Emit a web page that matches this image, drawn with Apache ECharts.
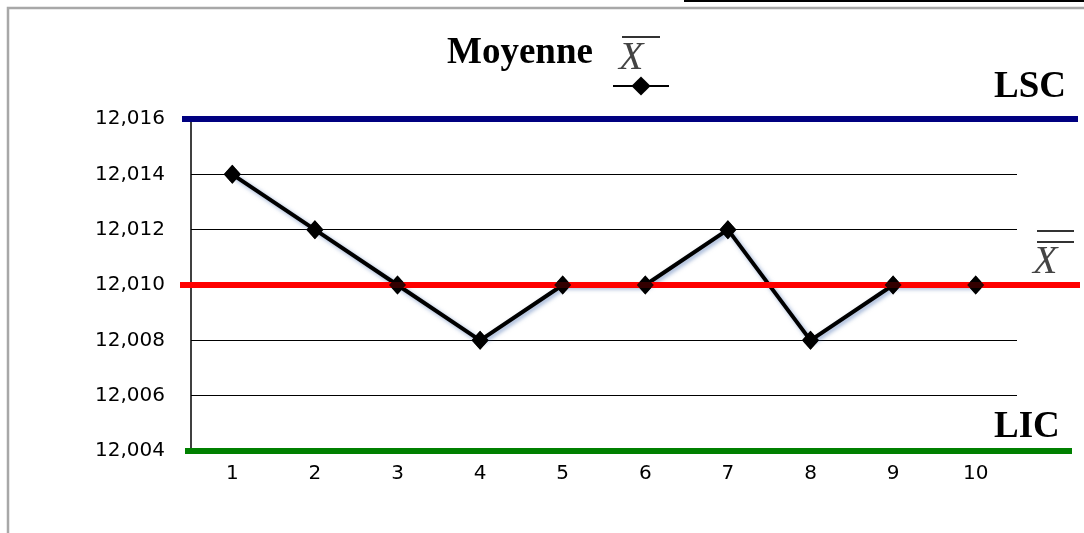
<!DOCTYPE html>
<html>
<head>
<meta charset="utf-8">
<script src="https://cdn.jsdelivr.net/npm/echarts@6/dist/echarts.min.js"></script>
<style>html,body{margin:0;padding:0;background:#fff}#c{width:1084px;height:533px}</style>
</head>
<body>
<div id="c"></div>
<script>
// ---- data ----
const categories = ['1','2','3','4','5','6','7','8','9','10'];
const moyennes = [12.014, 12.012, 12.010, 12.008, 12.010, 12.010, 12.012, 12.008, 12.010, 12.010];
const LSC = 12.016;
const LC = 12.010;
const LIC = 12.004;
const yMin = 12.004, yMax = 12.016, yStep = 0.002;
// horizontal extent of limit lines (in second grid's own units)
const lscSpan = [2, 898];
const lcSpan = [0, 900];
const licSpan = [5, 892];

const chart = echarts.init(document.getElementById('c'), null, {renderer: 'canvas'});
const fmt = v => v.toFixed(3).replace('.', ',');

const option = {
  animation: false,
  backgroundColor: '#fff',
  title: {
    text: 'Moyenne',
    left: 447, top: 35, padding: 0,
    textStyle: {fontFamily: 'Liberation Serif', fontWeight: 'bold', fontSize: 37, color: '#000'}
  },
  legend: {
    data: ['Moyenne'],
    left: 612, top: 74, padding: 0,
    itemWidth: 56, itemHeight: 24,
    formatter: () => '',
    textStyle: {fontSize: 1}
  },
  grid: [
    {left: 191, right: 67, top: 119, bottom: 82},
    {left: 180, right: 4, top: 119, bottom: 82}
  ],
  xAxis: [
    {
      type: 'category', data: categories, gridIndex: 0, boundaryGap: true,
      axisLine: {show: false}, axisTick: {show: false},
      axisLabel: {margin: 13, fontFamily: 'DejaVu Sans', fontSize: 20, color: '#000'},
      splitLine: {show: false}
    },
    {type: 'value', gridIndex: 1, min: 0, max: 900, show: false}
  ],
  yAxis: [
    {
      type: 'value', gridIndex: 0, min: yMin, max: yMax, interval: yStep,
      axisLine: {show: true, lineStyle: {color: '#000', width: 1.5}},
      axisTick: {show: false},
      axisLabel: {margin: 26, fontFamily: 'DejaVu Sans', fontSize: 20, color: '#000', formatter: fmt},
      splitLine: {show: true, lineStyle: {color: '#000', width: 1}}
    },
    {type: 'value', gridIndex: 1, min: yMin, max: yMax, show: false}
  ],
  series: [
    {
      name: 'Moyenne', type: 'line', xAxisIndex: 0, yAxisIndex: 0, z: 3,
      data: moyennes,
      symbol: 'diamond', symbolSize: [17, 19], showSymbol: true,
      itemStyle: {color: '#000'},
      lineStyle: {color: '#000', width: 4, shadowColor: 'rgba(60,100,170,0.55)', shadowBlur: 4, shadowOffsetX: 2, shadowOffsetY: 2}
    },
    {
      name: 'LSC', type: 'line', xAxisIndex: 1, yAxisIndex: 1, z: 4, symbol: 'none', silent: true,
      data: [[lscSpan[0], LSC], [lscSpan[1], LSC]],
      lineStyle: {color: '#000080', width: 6}
    },
    {
      name: 'LC', type: 'line', xAxisIndex: 1, yAxisIndex: 1, z: 4, symbol: 'none', silent: true,
      data: [[lcSpan[0], LC], [lcSpan[1], LC]],
      lineStyle: {color: '#ff0000', width: 6}
    },
    {
      name: 'LIC', type: 'line', xAxisIndex: 1, yAxisIndex: 1, z: 4, symbol: 'none', silent: true,
      data: [[licSpan[0], LIC], [licSpan[1], LIC]],
      lineStyle: {color: '#008000', width: 6}
    },
    {
      name: 'points', type: 'scatter', xAxisIndex: 0, yAxisIndex: 0, z: 6, silent: true,
      data: moyennes, symbol: 'diamond', symbolSize: [17, 19],
      itemStyle: {color: '#000'}
    }
  ],
  graphic: [
    {type: 'rect', shape: {x: 8, y: 8, width: 1100, height: 560}, style: {fill: 'none', stroke: '#a8a8a8', lineWidth: 2.5}, silent: true, z: 0},
    {type: 'line', shape: {x1: 684, y1: 1, x2: 1084, y2: 1}, style: {stroke: '#000', lineWidth: 2}, silent: true},
    // title X-bar
    {type: 'text', x: 619, y: 58, style: {text: 'X', fontFamily: 'Liberation Serif', fontStyle: 'italic', fontSize: 40, fill: '#444', verticalAlign: 'middle', align: 'left'}},
    {type: 'line', shape: {x1: 622, y1: 37, x2: 660, y2: 37}, style: {stroke: '#333', lineWidth: 2}},
    // limit labels
    {type: 'text', x: 994, y: 87, style: {text: 'LSC', fontFamily: 'Liberation Serif', fontWeight: 'bold', fontSize: 37, fill: '#000', verticalAlign: 'middle', align: 'left'}},
    {type: 'text', x: 994, y: 427, style: {text: 'LIC', fontFamily: 'Liberation Serif', fontWeight: 'bold', fontSize: 37, fill: '#000', verticalAlign: 'middle', align: 'left'}},
    {type: 'text', x: 1033, y: 262, style: {text: 'X', fontFamily: 'Liberation Serif', fontStyle: 'italic', fontSize: 40, fill: '#444', verticalAlign: 'middle', align: 'left'}},
    {type: 'line', shape: {x1: 1037, y1: 231, x2: 1074, y2: 231}, style: {stroke: '#333', lineWidth: 2}},
    {type: 'line', shape: {x1: 1037, y1: 242, x2: 1074, y2: 242}, style: {stroke: '#333', lineWidth: 2}}
  ]
};
chart.setOption(option);
</script>
</body>
</html>
